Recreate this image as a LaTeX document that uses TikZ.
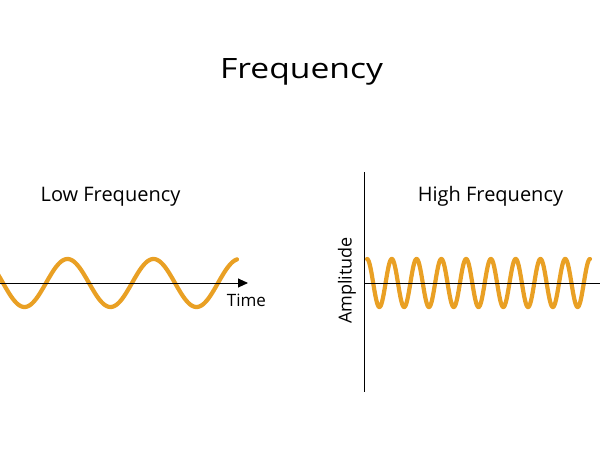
\documentclass[tikz,border=0pt]{standalone}
\usepackage{fontspec}
\setmainfont{Open Sans}
\usetikzlibrary{arrows.meta}
\definecolor{wave}{HTML}{E9A024}
\tikzset{
  wavepath/.style={draw=wave, line width=4.2pt, line cap=round, smooth},
  axisline/.style={draw=black, line width=0.9pt},
  lbl/.style={inner sep=0pt, anchor=base, font=\fontsize{20}{24}\selectfont},
  small/.style={inner sep=0pt, anchor=base, font=\fontsize{17}{20}\selectfont},
}
\begin{document}
\begin{tikzpicture}[x=1pt,y=-1pt]
\useasboundingbox (0,0) rectangle (600,460);
\fill[white] (0,0) rectangle (600,460);
\node[inner sep=0pt, anchor=base, xscale=1.2, font=\fontsize{28}{34}\selectfont] (title) at (301.5,78.3) {Frequency};
\node[lbl] (low) at (110.5,201) {Low Frequency};
\node[lbl] (high) at (490.5,201) {High Frequency};
% low frequency
\begin{scope}
\clip (0,0) rectangle (600,460);
\draw[wavepath, samples=200, domain=-6:237] plot (\x, {283+24*sin((\x-3)*4.186)});
\end{scope}
\coordinate (tl) at (0,283);
\coordinate (tr) at (248,283);
\draw[axisline, -{Triangle[length=10pt,width=9pt]}] (tl) -- (tr);
\node[small] (time) at (246.5,306) {Time};
% high frequency
\coordinate (vt) at (364,172);
\coordinate (vb) at (364,392);
\coordinate (hl) at (364,283);
\coordinate (hr) at (600,283);
\draw[axisline] (vt) -- (vb);
\draw[wavepath, samples=600, domain=367:590] plot (\x, {283-24*cos((\x-367)*14.528)});
\draw[axisline] (hl) -- (hr);
\node[small, rotate=90, font=\fontsize{18}{21}\selectfont] (amp) at (351.7,280.5) {Amplitude};
\end{tikzpicture}
\end{document}
